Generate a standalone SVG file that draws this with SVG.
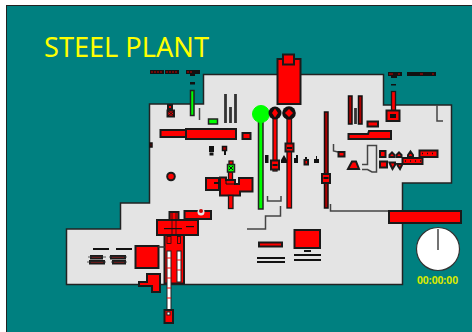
<svg xmlns="http://www.w3.org/2000/svg" width="472" height="332" viewBox="0 0 472 332">
<style>
.r{fill:#f00;stroke:#1a1a1a;stroke-width:2}
.s{fill:#f00;stroke:#1a1a1a;stroke-width:1.300}
.d{fill:#a00;stroke:#111;stroke-width:1.500}
.g{fill:#0f0;stroke:#222;stroke-width:1.500}
.k{fill:#111;stroke:none}
.l{fill:none;stroke:#444;stroke-width:1.500}
.t{fill:none;stroke:#111;stroke-width:1.800}
.bar{fill:none;stroke:#333;stroke-width:2.800}
.w{fill:#fff;stroke:#222;stroke-width:1}
text{font-family:"Noto Sans","DejaVu Sans",sans-serif;fill:#ff0}
</style>
<rect width="472" height="332" fill="#fff"/>
<rect x="6.500" y="5.500" width="466" height="327" fill="#008080" stroke="#222" stroke-width="1"/>
<text x="44" y="56.500" font-size="28" textLength="165" lengthAdjust="spacingAndGlyphs">STEEL PLANT</text>
<polygon id="floor" points="149.500,104 203.500,104 203.500,74.500 383.500,74.500 383.500,105 451.500,105 451.500,183 402.500,183 402.500,284.500 66.500,284.500 66.500,229 120.500,229 120.500,203 149.500,203" fill="#e4e4e4" stroke="#222" stroke-width="1.500"/>
<g id="connectors">
<path class="l" d="M267.500 196V201H281V196"/>
<path class="l" d="M280.500 206V216H265.500V229H247"/>
<path class="l" d="M330.500 204V211H389"/>
<path class="l" d="M437 105V121H443"/>
<path class="l" d="M333.500 144V151L338 152"/>
<path class="l" d="M362 164.500H367.500V145.500H376.500V172H372L367.500 169.500H362"/>
<path class="l" d="M199.500 108V120"/>
</g>
<g id="top-labels">
<rect class="k" x="150" y="70" width="14" height="4"/>
<rect class="k" x="165" y="70" width="14" height="4"/>
<rect class="k" x="186" y="70" width="14" height="4"/>
<path d="M151 72h12M166 72h12M187 72h6" stroke="#c00" stroke-width="1.200" stroke-dasharray="2 1"/>
<rect class="k" x="190" y="73" width="5" height="3"/>
<rect class="k" x="190" y="82" width="5" height="2.500"/>
<rect class="k" x="388" y="72" width="14" height="4"/>
<rect class="k" x="391" y="75" width="6" height="3"/>
<rect class="k" x="407" y="72" width="29" height="4"/>
<path d="M389 74h4M398 74h2M420 74h3M432 74h2" stroke="#c00" stroke-width="1.200"/>
<rect class="k" x="391" y="84" width="5" height="1.500"/>
</g>
<g id="left-unit">
<rect class="g" x="190.500" y="90.500" width="3.500" height="25"/>
<rect class="r" x="168" y="105" width="4" height="4"/>
<rect class="r" x="167.500" y="110.500" width="6.500" height="6"/>
<path d="M168 111l6 5M174 111l-6 5" stroke="#111"/>
<path class="bar" d="M225.500 94V123M230.500 107V123M235.500 94V123"/>
<rect class="g" x="208.500" y="119" width="9" height="5"/>
<rect class="r" x="160.500" y="130" width="26" height="7"/>
<rect class="r" x="186" y="129" width="50" height="10"/>
<rect class="r" x="242.500" y="133" width="8" height="6"/>
<rect class="d" x="150" y="143" width="2" height="4"/>
<rect class="k" x="209" y="146" width="5" height="6"/>
<rect class="k" x="209.500" y="152.500" width="4" height="3"/>
<rect class="d" x="222.500" y="146.500" width="4" height="4"/>
<rect class="k" x="224" y="151" width="2" height="4"/>
</g>
<g id="furnaces">
<rect class="r" x="277.500" y="59" width="23" height="45"/>
<rect class="r" x="283" y="54.500" width="11" height="10"/>
<rect class="g" x="258.500" y="113" width="4.500" height="96"/>
<circle cx="261" cy="114" r="8.500" fill="#0f0" stroke="#0f0" stroke-width="1"/>
<rect class="s" x="273" y="113" width="4" height="58"/>
<circle cx="275" cy="113" r="6.500" fill="#111"/>
<path d="M275 108.500L278 113L275 117.500L272 113Z" fill="#f00"/>
<rect class="s" x="287" y="113" width="4.500" height="95"/>
<circle cx="289" cy="113" r="6.800" fill="#111"/>
<path d="M289 109L293 113L289 117L285 113Z" fill="#f00"/>
<rect class="r" x="285.500" y="143.500" width="8" height="8"/>
<rect class="k" x="287" y="147" width="5" height="2"/>
<rect class="r" x="271" y="160.500" width="8" height="9"/>
<rect class="k" x="272.500" y="164" width="5" height="2"/>
<rect class="d" x="324.500" y="112" width="3.500" height="96"/>
<rect class="r" x="322" y="174" width="8" height="9"/>
<rect class="k" x="323.500" y="177" width="5" height="2"/>
<rect class="k" x="265" y="155" width="3.500" height="8"/>
<path class="k" d="M281 163V160L284 155L287 160V163Z"/>
<path class="k" d="M294 163V158H296V155H298V163Z"/>
<rect class="r" x="304.500" y="160" width="3.500" height="4.500"/>
<rect class="k" x="305" y="157" width="2" height="2"/>
<path class="k" d="M314 163V159H316V156H317V159H319V163Z"/>
</g>
<g id="right-unit">
<rect class="d" x="348.500" y="96" width="3.500" height="28"/>
<path class="bar" d="M355.500 108V124"/>
<rect class="d" x="358.500" y="96" width="3.500" height="28"/>
<rect class="r" x="367.500" y="121.500" width="10.500" height="5"/>
<polygon class="r" points="348.500,134 368,134 369,131 391,131 391,139 348.500,139"/>
<rect class="s" x="391.500" y="91.500" width="4" height="20"/>
<rect class="r" x="386.500" y="110.500" width="13" height="10.500"/>
<rect class="k" x="390" y="114" width="6" height="4"/>
<rect class="r" x="338.500" y="152" width="6" height="4.500"/>
<polygon class="r" points="348,169 352,161.500 356,161.500 359,169"/>
</g>
<g id="small-units">
<rect class="r" x="380" y="151" width="5.500" height="6"/>
<path class="r" d="M389.500 157V155L392 152.500L394.500 155V157Z"/>
<path class="r" d="M396.500 157V155L399 152.500L401.500 155V157Z"/>
<path class="r" d="M408 157V155L410.500 151.500L413 155V157Z"/>
<rect class="r" x="419.500" y="150.500" width="18" height="6.500"/>
<path d="M422 153.500h14" stroke="#111" stroke-width="1.500" stroke-dasharray="1 4"/>
<rect class="r" x="380" y="161.500" width="7" height="6"/>
<path class="r" d="M389.500 162.500H395V165L392.500 169L390.500 165Z"/>
<path class="r" d="M397 164H402V165L400 169L398 166Z"/>
<rect class="r" x="402.500" y="158" width="20" height="6"/>
<path d="M405 161h16" stroke="#111" stroke-width="1.500" stroke-dasharray="1 4"/>
</g>
<g id="caster">
<rect class="s" x="228.500" y="172" width="4" height="9"/>
<rect class="s" x="229" y="161" width="4" height="3.500"/>
<rect class="g" x="227.500" y="164.500" width="7" height="7.500"/>
<path d="M229 166l4 4M233 166l-4 4" stroke="#111"/>
<polygon class="r" points="220,177.500 226,177.500 226,180 235,180 235,184 239,184 239,178 252.500,178 252.500,191.500 240,191.500 240,195.500 220,195.500"/>
<rect class="r" x="206" y="178" width="13" height="12"/>
<rect class="k" x="214" y="182" width="5" height="2"/>
<path d="M226 180V184H235" fill="none" stroke="#111"/>
<rect class="s" x="228.500" y="195.500" width="4.500" height="13"/>
<circle class="r" cx="171" cy="176.500" r="3.800"/>
</g>
<g id="mill">
<rect class="r" x="164.500" y="235" width="19.500" height="48.500"/>
<rect class="r" x="157" y="220" width="41" height="15"/>
<rect class="r" x="169.500" y="212" width="9" height="8"/>
<rect class="r" x="184.500" y="211" width="26.500" height="8"/>
<circle cx="201" cy="212" r="3.500" fill="#e4e4e4"/>
<circle cx="201" cy="211" r="2" fill="#c00"/>
<path d="M172 213V234M176 213V234" stroke="#111" stroke-width=".8"/>
<rect class="k" x="164" y="228" width="18" height="1.200"/>
<rect class="k" x="186" y="226" width="8" height="1.200"/>
<rect x="167" y="236.500" width="4" height="7" fill="#f00" stroke="#111" stroke-width=".8"/>
<rect x="177.500" y="236.500" width="3" height="7" fill="#f00" stroke="#111" stroke-width=".8"/>
<rect class="w" x="167" y="251" width="4" height="60"/>
<rect class="w" x="177" y="251" width="4" height="31"/>
<path d="M167 258h4M167 268h4M167 278h4M167 288h4M167 298h4M177 260h4M177 270h4" stroke="#f00" stroke-width="1"/>
<rect class="r" x="164.500" y="310" width="8.500" height="13"/>
<rect class="w" x="167" y="312" width="3" height="3"/>
<rect class="r" x="135.500" y="246" width="23" height="22"/>
<path d="M158 247H165" stroke="#333" stroke-width="1.500"/>
<polygon class="r" points="139,282 147,282 147,274 160,274 160,292 152,292 152,286 139,286"/>
</g>
<g id="pits">
<path class="t" d="M93 249H109M116 249H132"/>
<rect class="r" x="91" y="256" width="11" height="2.500"/>
<rect class="r" x="111" y="256" width="14" height="2.500"/>
<rect class="r" x="90" y="261" width="14" height="2.500"/>
<rect class="r" x="113" y="261" width="12" height="2.500"/>
<path d="M88 257H106M109 257H127M87 262H106M111 262H127" stroke="#333" stroke-width=".8"/>
<path class="t" d="M257 258H285M257 262H285M294 255H321M294 260H321M304 251H311"/>
<rect class="r" x="259" y="242.500" width="23" height="4"/>
<rect class="r" x="294.500" y="230" width="25.500" height="18"/>
</g>
<g id="stock">
<rect class="r" x="389" y="211" width="72" height="12"/>
</g>
<g id="clock">
<circle cx="438" cy="249" r="21.500" fill="#fff" stroke="#333" stroke-width="1.200"/>
<path d="M438 229V250" stroke="#444" stroke-width="1.500"/>
<text x="417" y="284" font-size="10.500" font-weight="bold" style="fill:#d8e800" textLength="41" lengthAdjust="spacingAndGlyphs">00:00:00</text>
</g>
</svg>
